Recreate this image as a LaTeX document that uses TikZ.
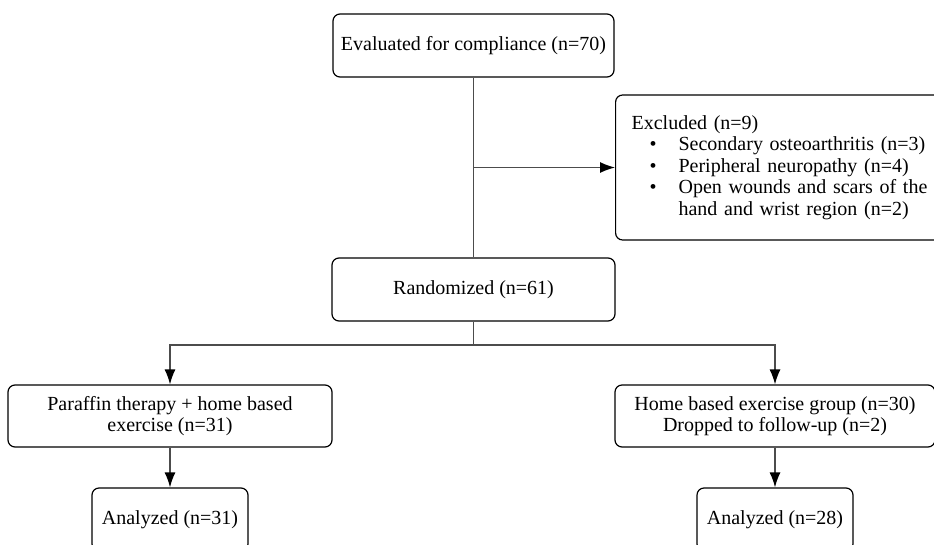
\documentclass[tikz,border=0pt]{standalone}
\usepackage{fontspec}
\setmainfont{Liberation Serif}
\usetikzlibrary{arrows.meta}

\begin{document}
\begin{tikzpicture}[x=1pt, y=-1pt, every node/.style={font=\fontsize{20}{21.5}\selectfont}, >={Latex[length=15pt, width=11pt, black]},
	box/.style={draw, rounded corners=7pt, line width=1.2pt, align=center, inner sep=0pt},
	link/.style={line width=1.3pt, black!70}]
	\useasboundingbox (0,0) rectangle (934,544);
	\clip (0,0) rectangle (934,544);
	\node[box, minimum width=281pt, minimum height=63pt] (eval) at (473.5,45.5) {Evaluated for compliance (n=70)};
	\node[box, anchor=west, align=left, text width=300pt, inner xsep=16pt, minimum height=145pt] (excl) at (615,167.5) {Excluded (n=9)\\
		\hspace*{18pt}\makebox[29pt][l]{\textbullet}Secondary osteoarthritis (n=3)\\
		\hspace*{18pt}\makebox[29pt][l]{\textbullet}Peripheral neuropathy (n=4)\\
		\hspace*{18pt}\makebox[29pt][l]{\textbullet}Open wounds and scars of the\\
		\hspace*{47pt}hand and wrist region (n=2)};
	\node[box, minimum width=283pt, minimum height=63pt] (rand) at (473.5,289.5) {Randomized (n=61)};
	\node[box, minimum width=324pt, minimum height=62pt] (paraffin) at (170,416) {Paraffin therapy + home based\\exercise (n=31)};
	\node[box, minimum width=320pt, minimum height=62pt] (home) at (775,416) {Home based exercise group (n=30)\\Dropped to follow-up (n=2)};
	\foreach \n/\x/\k in {left/170/31, right/775/28}
		\node[box, minimum width=156pt, minimum height=63pt] (an\n) at (\x,519.5) {Analyzed (n=\k)};
	\coordinate (split) at (473.5,345);
	\draw[link] (eval) -- (rand);
	\draw[link, ->] (eval.south |- excl.west) -- (excl.west);
	\draw[link] (rand) -- (split);
	\draw[link, ->] (split) -| (paraffin);
	\draw[link, ->] (split) -| (home);
	\draw[link, ->] (paraffin) -- (anleft);
	\draw[link, ->] (home) -- (anright);
\end{tikzpicture}
\end{document}
